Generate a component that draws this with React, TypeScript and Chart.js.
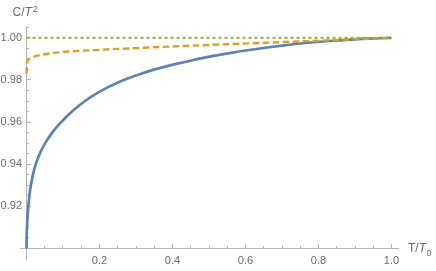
import React, { useEffect, useRef } from "react";
import { Chart, registerables } from "chart.js";

Chart.register(...registerables);

// ---- data ----
const blueX = [0, 0.0003, 0.001, 0.0025, 0.005, 0.01, 0.016, 0.023, 0.032, 0.042, 0.055, 0.07, 0.09, 0.115, 0.145, 0.18, 0.225, 0.27, 0.32, 0.365, 0.41, 0.46, 0.51, 0.565, 0.61, 0.66, 0.705, 0.75, 0.795, 0.84, 0.885, 0.93, 0.965, 1.0];
const blueY = [0.9, 0.9046, 0.9088, 0.914, 0.92, 0.9278, 0.9337, 0.9386, 0.9432, 0.9471, 0.9511, 0.9549, 0.959, 0.9635, 0.968, 0.9723, 0.9767, 0.9802, 0.9833, 0.9856, 0.9876, 0.9896, 0.9913, 0.993, 0.9942, 0.9954, 0.9964, 0.9973, 0.998, 0.9986, 0.9991, 0.9996, 0.9998, 1.0];

const orangeX = [0, 0.0005, 0.0015, 0.004, 0.01, 0.02, 0.04, 0.09, 0.2, 0.3, 0.4, 0.5, 0.66, 0.84, 1.0];
const orangeY = [0.983, 0.9865, 0.9882, 0.9893, 0.9902, 0.991, 0.9919, 0.9931, 0.9943, 0.9951, 0.9959, 0.9966, 0.9977, 0.9989, 1.0];

const greenX = [0, 1.0];
const greenY = [1.0, 1.0];

const xMajorTicks = [0.2, 0.4, 0.6, 0.8, 1.0];
const xTickLabels = ["0.2", "0.4", "0.6", "0.8", "1.0"];
const xMinorTicks = [0.05, 0.1, 0.15, 0.25, 0.3, 0.35, 0.45, 0.5, 0.55, 0.65, 0.7, 0.75, 0.85, 0.9, 0.95];

const yMajorTicks = [0.92, 0.94, 0.96, 0.98, 1.0];
const yTickLabels = ["0.92", "0.94", "0.96", "0.98", "1.00"];
const yMinorTicks = [0.905, 0.91, 0.915, 0.925, 0.93, 0.935, 0.945, 0.95, 0.955, 0.965, 0.97, 0.975, 0.985, 0.99, 0.995, 1.005];

const xAxisOrigin = 0;
const yAxisOrigin = 0.9;

const AXIS_COLOR = "#b3b3b3";
const LABEL_COLOR = "#6a6a6a";
const FONT = "'Liberation Sans', Arial, sans-serif";

const toPoints = (xs: number[], ys: number[]) => xs.map((x, i) => ({ x, y: ys[i] }));

const axesPlugin = {
  id: "mmaAxes",
  beforeDatasetsDraw(chart: any) {
    const { ctx, chartArea, scales } = chart;
    const xs = scales.x;
    const ys = scales.y;
    const px0 = Math.floor(xs.getPixelForValue(xAxisOrigin)) + 0.5;
    const py0 = Math.floor(ys.getPixelForValue(yAxisOrigin)) + 0.5;
    ctx.save();
    ctx.strokeStyle = AXIS_COLOR;
    ctx.lineWidth = 1;
    ctx.beginPath();
    ctx.moveTo(px0, chartArea.top);
    ctx.lineTo(px0, chartArea.bottom);
    ctx.moveTo(chartArea.left, py0);
    ctx.lineTo(chartArea.right, py0);
    xMajorTicks.forEach((v) => {
      const p = Math.floor(xs.getPixelForValue(v)) + 0.5;
      ctx.moveTo(p, py0);
      ctx.lineTo(p, py0 - 4.5);
    });
    xMinorTicks.forEach((v) => {
      const p = Math.floor(xs.getPixelForValue(v)) + 0.5;
      ctx.moveTo(p, py0);
      ctx.lineTo(p, py0 - 2.5);
    });
    yMajorTicks.forEach((v) => {
      const p = Math.floor(ys.getPixelForValue(v)) + 0.5;
      ctx.moveTo(px0, p);
      ctx.lineTo(px0 + 4.5, p);
    });
    yMinorTicks.forEach((v) => {
      const p = Math.floor(ys.getPixelForValue(v)) + 0.5;
      ctx.moveTo(px0, p);
      ctx.lineTo(px0 + 2.5, p);
    });
    ctx.stroke();
    ctx.restore();
  },
  afterDraw(chart: any) {
    const { ctx, scales } = chart;
    const xs = scales.x;
    const ys = scales.y;
    const px0 = xs.getPixelForValue(xAxisOrigin);
    const py0 = ys.getPixelForValue(yAxisOrigin);
    ctx.save();
    ctx.fillStyle = LABEL_COLOR;
    ctx.font = `11px ${FONT}`;
    // x tick labels
    ctx.textAlign = "center";
    ctx.textBaseline = "alphabetic";
    xMajorTicks.forEach((v, i) => {
      ctx.fillText(xTickLabels[i], xs.getPixelForValue(v), py0 + 16);
    });
    // y tick labels
    ctx.textAlign = "right";
    ctx.textBaseline = "middle";
    yMajorTicks.forEach((v, i) => {
      ctx.fillText(yTickLabels[i], px0 - 4.5, ys.getPixelForValue(v));
    });
    // y axis title: C/T^2
    ctx.textAlign = "left";
    ctx.textBaseline = "alphabetic";
    let tx = 12.5;
    const tb = 15.7;
    ctx.font = `12px ${FONT}`;
    ctx.fillText("C/", tx, tb);
    tx += ctx.measureText("C/").width;
    ctx.font = `italic 12px ${FONT}`;
    ctx.fillText("T", tx, tb);
    tx += ctx.measureText("T").width + 1;
    ctx.font = `9px ${FONT}`;
    ctx.fillText("2", tx, 12.3);
    // x axis title: T/T_0
    let ax = 408;
    const ab = py0 + 4;
    ctx.font = `12px ${FONT}`;
    ctx.fillText("T/", ax, ab);
    ax += ctx.measureText("T/").width;
    ctx.font = `italic 12px ${FONT}`;
    ctx.fillText("T", ax, ab);
    ax += ctx.measureText("T").width + 0.5;
    ctx.font = `9px ${FONT}`;
    ctx.fillText("0", ax, ab + 4);
    ctx.restore();
  },
};

export default function App() {
  const canvasRef = useRef<HTMLCanvasElement | null>(null);

  useEffect(() => {
    const canvas = canvasRef.current;
    if (!canvas) return;
    const chart = new Chart(canvas, {
      type: "line",
      data: {
        datasets: [
          {
            label: "blue",
            data: toPoints(blueX, blueY),
            borderColor: "#5e81b5",
            borderWidth: 2.7,
            pointRadius: 0,
            cubicInterpolationMode: "monotone",
            fill: false,
            order: 2,
          },
          {
            label: "orange",
            data: toPoints(orangeX, orangeY),
            borderColor: "#e19c24",
            borderWidth: 2.4,
            borderDash: [6.5, 3.5],
            pointRadius: 0,
            cubicInterpolationMode: "monotone",
            fill: false,
            order: 1,
          },
          {
            label: "green",
            data: toPoints(greenX, greenY),
            borderColor: "#8fb032",
            borderWidth: 2,
            borderDash: [3, 3],
            pointRadius: 0,
            fill: false,
            order: 0,
          },
        ],
      },
      options: {
        animation: false,
        responsive: false,
        devicePixelRatio: 1,
        layout: { padding: { left: 20, right: 37, top: 27, bottom: 11 } },
        plugins: {
          legend: { display: false },
          tooltip: { enabled: false },
          title: { display: false },
        },
        scales: {
          x: { type: "linear", min: -0.0178, max: 1.0205, display: false },
          y: { type: "linear", min: 0.89454, max: 1.00513, display: false },
        },
      },
      plugins: [axesPlugin],
    });
    return () => chart.destroy();
  }, []);

  return (
    <div style={{ position: "fixed", left: 0, top: 0, width: 436, height: 271, background: "#fff" }}>
      <canvas ref={canvasRef} width={436} height={271} style={{ display: "block", width: 436, height: 271 }} />
    </div>
  );
}
